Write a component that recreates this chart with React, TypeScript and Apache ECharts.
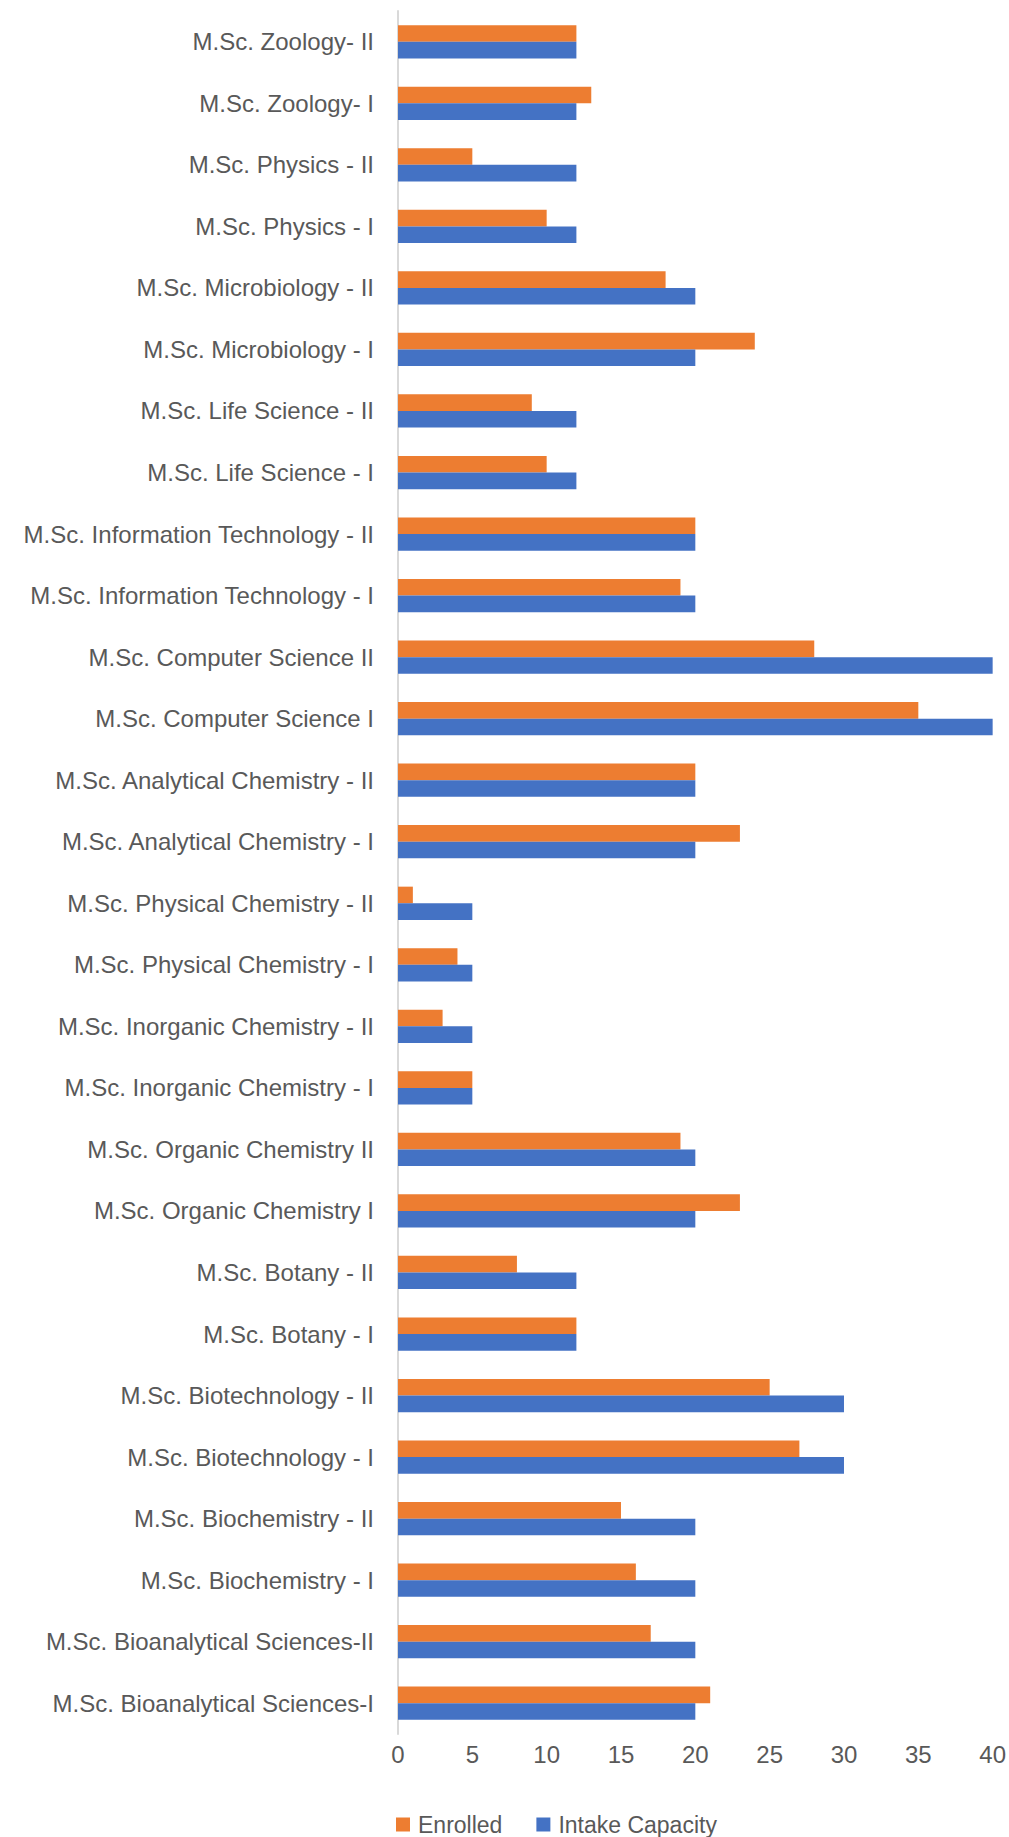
import React, { useEffect, useRef } from "react";
import * as echarts from "echarts";

const categories = [
  "M.Sc. Bioanalytical Sciences-I",
  "M.Sc. Bioanalytical Sciences-II",
  "M.Sc. Biochemistry - I",
  "M.Sc. Biochemistry - II",
  "M.Sc. Biotechnology - I",
  "M.Sc. Biotechnology - II",
  "M.Sc. Botany - I",
  "M.Sc. Botany - II",
  "M.Sc. Organic Chemistry I",
  "M.Sc. Organic Chemistry II",
  "M.Sc. Inorganic Chemistry - I",
  "M.Sc. Inorganic Chemistry - II",
  "M.Sc. Physical Chemistry - I",
  "M.Sc. Physical Chemistry - II",
  "M.Sc. Analytical Chemistry - I",
  "M.Sc. Analytical Chemistry - II",
  "M.Sc. Computer Science I",
  "M.Sc. Computer Science II",
  "M.Sc. Information Technology - I",
  "M.Sc. Information Technology - II",
  "M.Sc. Life Science - I",
  "M.Sc. Life Science - II",
  "M.Sc. Microbiology - I",
  "M.Sc. Microbiology - II",
  "M.Sc. Physics - I",
  "M.Sc. Physics - II",
  "M.Sc. Zoology- I",
  "M.Sc. Zoology- II",
];

const enrolled = [21, 17, 16, 15, 27, 25, 12, 8, 23, 19, 5, 3, 4, 1, 23, 20, 35, 28, 19, 20, 10, 9, 24, 18, 10, 5, 13, 12];
const intakeCapacity = [20, 20, 20, 20, 30, 30, 12, 12, 20, 20, 5, 5, 5, 5, 20, 20, 40, 40, 20, 20, 12, 12, 20, 20, 12, 12, 12, 12];

const xTicks = { min: 0, max: 40, interval: 5 };

const FONT = "'Liberation Sans', Arial, sans-serif";
const TEXT = "#595959";

export default function App() {
  const ref = useRef<HTMLDivElement>(null);
  useEffect(() => {
    document.body.style.margin = "0";
    const chart = echarts.init(ref.current!, null, { renderer: "svg" });
    chart.setOption({
      animation: false,
      backgroundColor: "#ffffff",
      grid: { left: 398, right: 16, top: 11, bottom: 103, containLabel: false },
      legend: {
        data: ["Enrolled", "Intake Capacity"],
        left: 391,
        top: 1808,
        itemWidth: 14,
        itemHeight: 14,
        itemGap: 34,
        icon: "rect",
        textStyle: { color: TEXT, fontSize: 23, fontFamily: FONT, padding: [0, 0, 0, 3] },
      },
      xAxis: {
        type: "value",
        min: xTicks.min,
        max: xTicks.max,
        interval: xTicks.interval,
        axisLine: { show: false },
        axisTick: { show: false },
        splitLine: { show: false },
        axisLabel: { color: TEXT, fontSize: 24, fontFamily: FONT, margin: 8 },
      },
      yAxis: {
        type: "category",
        data: categories,
        axisLine: { show: true, lineStyle: { color: "#d9d9d9", width: 2 } },
        axisTick: { show: false },
        axisLabel: { color: TEXT, fontSize: 24, fontFamily: FONT, margin: 24 },
      },
      series: [
        {
          name: "Enrolled",
          type: "bar",
          data: enrolled,
          itemStyle: { color: "#ED7D31" },
          barGap: "0%",
          barCategoryGap: "46%",
        },
        {
          name: "Intake Capacity",
          type: "bar",
          data: intakeCapacity,
          itemStyle: { color: "#4472C4" },
          barGap: "0%",
          barCategoryGap: "46%",
        },
      ],
    });
    return () => chart.dispose();
  }, []);
  return <div ref={ref} style={{ width: 1009, height: 1837 }} />;
}
